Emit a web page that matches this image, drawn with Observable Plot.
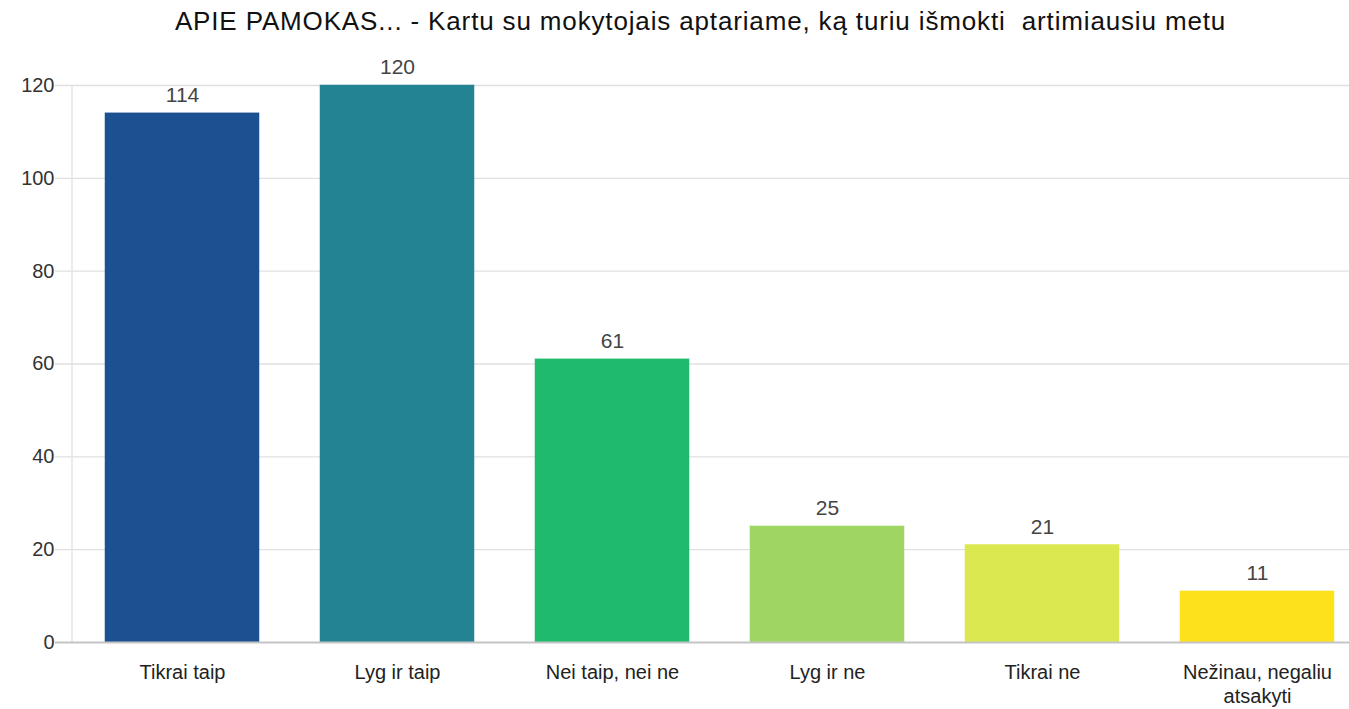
<!DOCTYPE html>
<html>
<head>
<meta charset="utf-8">
<script src="https://cdn.jsdelivr.net/npm/d3@7"></script>
<script src="https://cdn.jsdelivr.net/npm/@observablehq/plot@0.6"></script>
<style>
  body { margin: 0; background: #fff; font-family: "Liberation Sans", Arial, sans-serif; overflow: hidden; }
  #title { height: 40px; line-height: 42px; font-size: 26px; letter-spacing: 0.85px; color: #111; text-align: center; width: 1349px; padding-left: 52px; box-sizing: border-box; white-space: pre; }
  #chart { width: 1349px; overflow: hidden; }
</style>
</head>
<body>
<div id="title">APIE PAMOKAS... - Kartu su mokytojais aptariame, ką turiu išmokti  artimiausiu metu</div>
<div id="chart"></div>
<script>
const categories = ["Tikrai taip", "Lyg ir taip", "Nei taip, nei ne", "Lyg ir ne", "Tikrai ne", "Nežinau, negaliu atsakyti"];
const tickLabels = ["Tikrai taip", "Lyg ir taip", "Nei taip, nei ne", "Lyg ir ne", "Tikrai ne", "Nežinau, negaliu\natsakyti"];
const values = [114, 120, 61, 25, 21, 11];
const colors = ["#1b5190", "#238393", "#1fba6e", "#9fd663", "#dbe84f", "#fde21b"];
const yTicks = [0, 20, 40, 60, 80, 100, 120];

const data = categories.map((c, i) => ({cat: c, value: values[i], color: colors[i]}));
const labelOf = new Map(categories.map((c, i) => [c, tickLabels[i]]));

const leftAxisLine = (index, scales, values, dims) => {
  const line = document.createElementNS("http://www.w3.org/2000/svg", "line");
  line.setAttribute("x1", dims.marginLeft);
  line.setAttribute("x2", dims.marginLeft);
  line.setAttribute("y1", dims.marginTop);
  line.setAttribute("y2", dims.height - dims.marginBottom);
  line.setAttribute("stroke", "#e0e0e0");
  line.setAttribute("stroke-width", 1.3);
  return line;
};

const chart = Plot.plot({
  width: 1349,
  height: 669,
  marginTop: 45,
  marginBottom: 67,
  marginLeft: 72,
  marginRight: -17,
  style: {fontFamily: "Liberation Sans, Arial, sans-serif", background: "#fff", overflow: "hidden"},
  x: {domain: categories, paddingInner: 0.286, paddingOuter: 0.144, label: null},
  y: {domain: [0, 120], label: null},
  marks: [
    Plot.ruleY(yTicks.filter(d => d > 0), {stroke: "#e0e0e0", strokeWidth: 1.3, insetLeft: -17}),
    leftAxisLine,
    Plot.barY(data, {x: "cat", y: "value", fill: "color", stroke: "color", strokeOpacity: 0.5}),
    Plot.ruleY([0], {stroke: "#c4c4c4", strokeWidth: 2, insetLeft: -17}),
    Plot.text(data, {x: "cat", y: "value", text: d => String(d.value), dy: -18, fontSize: 21, fill: "#444"}),
    Plot.axisY(yTicks, {tickSize: 0, tickPadding: 18, fontSize: 20, fill: "#333", label: null}),
    Plot.axisX(categories, {tickSize: 0, tickPadding: 19, fontSize: 20, fill: "#222", label: null, tickFormat: d => labelOf.get(d), lineHeight: 1.2})
  ]
});
document.getElementById("chart").appendChild(chart);
</script>
</body>
</html>
